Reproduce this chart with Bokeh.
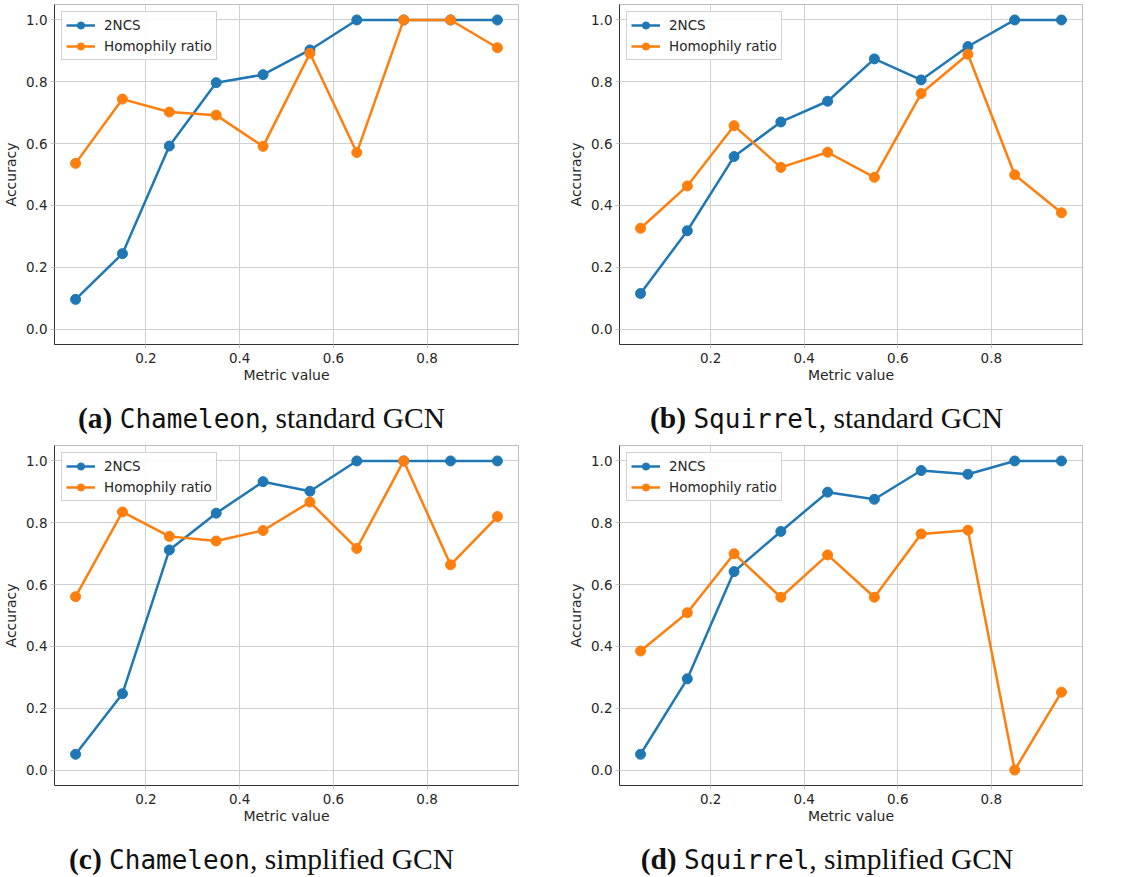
from bokeh.plotting import figure
from bokeh.models import Range1d, FixedTicker, Legend, LegendItem, Div
from bokeh.layouts import row, column
from bokeh.embed import file_html
from bokeh.resources import INLINE

# Bin centres of the metric value
metric = [0.05, 0.15, 0.25, 0.35, 0.45, 0.55, 0.65, 0.75, 0.85, 0.95]

# (a) Chameleon, standard GCN
cham_std_2ncs = [0.096, 0.244, 0.592, 0.797, 0.823, 0.903, 1.0, 1.0, 1.0, 1.0]
cham_std_homo = [0.536, 0.744, 0.702, 0.692, 0.591, 0.892, 0.571, 1.0, 1.0, 0.910]
# (b) Squirrel, standard GCN
squ_std_2ncs = [0.115, 0.318, 0.558, 0.670, 0.737, 0.874, 0.806, 0.914, 1.0, 1.0]
squ_std_homo = [0.326, 0.463, 0.658, 0.523, 0.572, 0.491, 0.762, 0.889, 0.499, 0.376]
# (c) Chameleon, simplified GCN
cham_sim_2ncs = [0.051, 0.247, 0.712, 0.831, 0.933, 0.902, 1.0, 1.0, 1.0, 1.0]
cham_sim_homo = [0.561, 0.835, 0.756, 0.741, 0.775, 0.867, 0.717, 1.0, 0.664, 0.820]
# (d) Squirrel, simplified GCN
squ_sim_2ncs = [0.051, 0.295, 0.642, 0.772, 0.899, 0.876, 0.969, 0.957, 1.0, 1.0]
squ_sim_homo = [0.385, 0.509, 0.700, 0.559, 0.696, 0.559, 0.764, 0.776, 0.0, 0.252]

series_names = ["2NCS", "Homophily ratio"]
x_ticks = [0.2, 0.4, 0.6, 0.8]
y_ticks = [0.0, 0.2, 0.4, 0.6, 0.8, 1.0]

BLUE = "#1f77b4"
ORANGE = "#ff7f0e"
FONT = "DejaVu Sans"


def make_panel(y1, y2, width, height, left, right, top, bottom):
    p = figure(width=width, height=height, output_backend="svg",
               toolbar_location=None,
               x_range=Range1d(0.005, 0.995), y_range=Range1d(-0.05, 1.05),
               min_border_left=left, min_border_right=right,
               min_border_top=top, min_border_bottom=bottom)
    p.background_fill_color = "white"
    p.border_fill_color = "white"
    p.outline_line_color = "#bdbdbd"
    p.outline_line_width = 1

    for ax in (p.xaxis[0], p.yaxis[0]):
        ax.axis_line_color = "#333333"
        ax.axis_line_width = 1
        ax.major_tick_line_color = "#c8c8c8"
        ax.major_tick_out = 4
        ax.major_tick_in = 0
        ax.minor_tick_line_color = None
        ax.major_label_text_font = FONT
        ax.major_label_text_font_size = "13.5px"
        ax.major_label_text_color = "#262626"
        ax.axis_label_text_font = FONT
        ax.axis_label_text_font_size = "14px"
        ax.axis_label_text_font_style = "normal"
        ax.axis_label_text_color = "#262626"

    p.xaxis.ticker = FixedTicker(ticks=x_ticks)
    p.yaxis.ticker = FixedTicker(ticks=y_ticks)
    p.xaxis.major_label_overrides = {t: f"{t:.1f}" for t in x_ticks}
    p.yaxis.major_label_overrides = {t: f"{t:.1f}" for t in y_ticks}
    p.xaxis.axis_label = "Metric value"
    p.yaxis.axis_label = "Accuracy"
    p.xaxis.major_label_standoff = 4
    p.yaxis.major_label_standoff = 3
    p.xaxis.axis_label_standoff = 1
    p.yaxis.axis_label_standoff = 4

    p.xgrid.grid_line_color = "#d0d0d0"
    p.ygrid.grid_line_color = "#d0d0d0"
    p.xgrid.grid_line_width = 1
    p.ygrid.grid_line_width = 1

    items = []
    for ys, color, name in ((y1, BLUE, series_names[0]), (y2, ORANGE, series_names[1])):
        ln = p.line(metric, ys, line_color=color, line_width=2.5)
        sc = p.scatter(metric, ys, size=10, fill_color=color, line_color=color)
        items.append(LegendItem(label=name, renderers=[ln, sc]))

    legend = Legend(items=items, location="top_left")
    legend.margin = 7
    legend.padding = 4
    legend.spacing = 3
    legend.label_height = 18
    legend.glyph_height = 18
    legend.glyph_width = 29
    legend.label_standoff = 9
    legend.label_text_font = FONT
    legend.label_text_font_size = "13.5px"
    legend.label_text_color = "#262626"
    legend.border_line_color = "#cccccc"
    legend.border_line_alpha = 0.9
    legend.background_fill_color = "white"
    legend.background_fill_alpha = 0.85
    p.add_layout(legend, "center")
    return p


def caption(letter, dataset, model, width, height, center_width, line_height):
    html = (
        f'<div style="width:{center_width}px;height:{height}px;line-height:{line_height}px;'
        f'text-align:center;font-family:\'Liberation Serif\',serif;font-size:29.5px;'
        f'color:#111;white-space:nowrap;">'
        f'<b>({letter})</b> '
        f'<span style="font-family:\'DejaVu Sans Mono\',monospace;font-size:26px;">{dataset}</span>'
        f', {model} GCN</div>'
    )
    return Div(text=html, width=width, height=height, margin=0)


pa = make_panel(cham_std_2ncs, cham_std_homo, 560, 395, 52, 42, 4, 51)
pb = make_panel(squ_std_2ncs, squ_std_homo, 561, 395, 59, 39, 4, 51)
pc = make_panel(cham_sim_2ncs, cham_sim_homo, 560, 396, 52, 42, 5, 51)
pd = make_panel(squ_sim_2ncs, squ_sim_homo, 561, 396, 59, 39, 5, 51)

ca = caption("a", "Chameleon", "standard", 560, 45, 523, 46)
cb = caption("b", "Squirrel", "standard", 561, 45, 533, 46)
cc = caption("c", "Chameleon", "simplified", 560, 41, 523, 46)
cd = caption("d", "Squirrel", "simplified", 561, 41, 534, 46)

layout = column(
    row(column(pa, ca, spacing=0), column(pb, cb, spacing=0), spacing=0),
    row(column(pc, cc, spacing=0), column(pd, cd, spacing=0), spacing=0),
    spacing=0,
)

open("out.html", "w").write(file_html(layout, INLINE))
